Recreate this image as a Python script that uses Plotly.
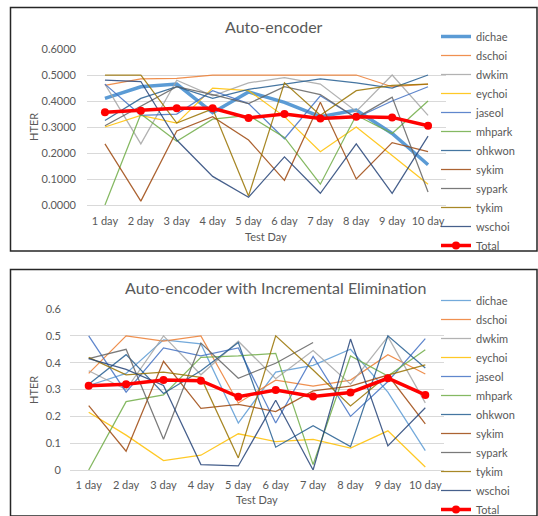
import plotly.graph_objects as go

W, H = 538, 516

days = ["1 day", "2 day", "3 day", "4 day", "5 day", "6 day", "7 day", "8 day", "9 day", "10 day"]
users = ["dichae", "dschoi", "dwkim", "eychoi", "jaseol", "mhpark",
         "ohkwon", "sykim", "sypark", "tykim", "wschoi"]

# HTER per user and test day: plain auto-encoder
ae_dichae = [0.41, 0.455, 0.465, 0.355, 0.435, 0.395, 0.34, 0.365, 0.275, 0.155]
ae_dschoi = [0.46, 0.485, 0.487, 0.5, 0.5, 0.5, 0.5, 0.5, 0.455, 0.465]
ae_dwkim = [0.465, 0.235, 0.48, 0.42, 0.47, 0.49, 0.465, 0.36, 0.5, 0.345]
ae_eychoi = [0.30, 0.345, 0.315, 0.45, 0.44, 0.34, 0.205, 0.30, 0.19, 0.08]
ae_jaseol = [0.465, 0.345, 0.35, 0.44, 0.39, 0.255, 0.42, 0.335, 0.40, 0.455]
ae_mhpark = [0.0, 0.35, 0.245, 0.33, 0.345, 0.26, 0.08, 0.345, 0.275, 0.40]
ae_ohkwon = [0.325, 0.41, 0.455, 0.41, 0.445, 0.465, 0.485, 0.47, 0.45, 0.5]
ae_sykim = [0.235, 0.015, 0.285, 0.34, 0.25, 0.095, 0.395, 0.10, 0.24, 0.205]
ae_sypark = [0.305, 0.38, 0.455, 0.425, 0.39, 0.455, 0.425, 0.335, 0.415, 0.05]
ae_tykim = [0.5, 0.5, 0.315, 0.37, 0.035, 0.47, 0.345, 0.44, 0.46, 0.465]
ae_wschoi = [0.48, 0.475, 0.25, 0.11, 0.03, 0.185, 0.045, 0.235, 0.045, 0.265]
ae_total = [0.357, 0.363, 0.372, 0.372, 0.335, 0.35, 0.333, 0.339, 0.337, 0.305]

# HTER per user and test day: auto-encoder with incremental elimination
ie_dichae = [0.315, 0.36, 0.485, 0.47, 0.175, 0.365, 0.39, 0.45, 0.29, 0.072]
ie_dschoi = [0.36, 0.5, 0.48, 0.5, 0.25, 0.335, 0.313, 0.335, 0.43, 0.358]
ie_dwkim = [0.37, 0.30, 0.5, 0.355, 0.48, 0.34, 0.445, 0.32, 0.497, 0.25]
ie_eychoi = [0.215, 0.13, 0.035, 0.055, 0.135, 0.106, 0.114, 0.082, 0.146, 0.011]
ie_jaseol = [0.5, 0.29, 0.455, 0.425, 0.455, 0.175, 0.423, 0.2, 0.33, 0.49]
ie_mhpark = [0.0, 0.255, 0.28, 0.42, 0.425, 0.435, 0.02, 0.425, 0.35, 0.448]
ie_ohkwon = [0.32, 0.43, 0.285, 0.37, 0.475, 0.085, 0.165, 0.087, 0.5, 0.38]
ie_sykim = [0.24, 0.07, 0.405, 0.23, 0.245, 0.218, 0.295, 0.313, 0.354, 0.172]
ie_sypark = [0.415, 0.45, 0.115, 0.473, 0.342, 0.398, 0.475, None, None, None]
ie_tykim = [0.42, 0.355, 0.365, 0.345, 0.045, 0.5, 0.373, 0.239, 0.354, 0.392]
ie_wschoi = [0.415, 0.375, 0.315, 0.02, 0.015, 0.26, 0.0, 0.488, 0.09, 0.232]
ie_total = [0.314, 0.32, 0.335, 0.333, 0.273, 0.298, 0.274, 0.289, 0.342, 0.28]

ae_series = [ae_dichae, ae_dschoi, ae_dwkim, ae_eychoi, ae_jaseol, ae_mhpark,
             ae_ohkwon, ae_sykim, ae_sypark, ae_tykim, ae_wschoi]
ie_series = [ie_dichae, ie_dschoi, ie_dwkim, ie_eychoi, ie_jaseol, ie_mhpark,
             ie_ohkwon, ie_sykim, ie_sypark, ie_tykim, ie_wschoi]

palette = ["#5B9BD5", "#ED7D31", "#A5A5A5", "#FFC000", "#4472C4", "#70AD47",
           "#255E91", "#9E480E", "#636363", "#997300", "#264478"]

FONT = "Lato"
TXT = "#595959"
GRID = "#D9D9D9"


def px_x(p):
    return p / W


def px_y(p):
    return 1 - p / H


fig = go.Figure()

# upper panel
for name, vals, col in zip(users, ae_series, palette):
    thick = name == "dichae"
    fig.add_trace(go.Scatter(x=days, y=vals, name=name, mode="lines",
                             line=dict(color=col, width=3.5 if thick else 1.25),
                             opacity=1 if thick else 0.85,
                             xaxis="x", yaxis="y", legend="legend"))
fig.add_trace(go.Scatter(x=days, y=ae_total, name="Total", mode="lines+markers",
                         line=dict(color="#FF0000", width=3.5),
                         marker=dict(color="#FF0000", size=8),
                         xaxis="x", yaxis="y", legend="legend"))

# lower panel
for name, vals, col in zip(users, ie_series, palette):
    fig.add_trace(go.Scatter(x=days, y=vals, name=name, mode="lines",
                             line=dict(color=col, width=1.25), opacity=0.85,
                             xaxis="x2", yaxis="y2", legend="legend2"))
fig.add_trace(go.Scatter(x=days, y=ie_total, name="Total", mode="lines+markers",
                         line=dict(color="#FF0000", width=3.5),
                         marker=dict(color="#FF0000", size=8),
                         xaxis="x2", yaxis="y2", legend="legend2"))

xcommon = dict(type="category", categoryorder="array", categoryarray=days,
               range=[-0.5, 9.5], showgrid=False, zeroline=False, showline=False,
               ticks="", tickfont=dict(family=FONT, size=11, color=TXT))
ycommon = dict(range=[0, 0.6001], dtick=0.1, tick0=0, showgrid=True, gridcolor=GRID,
               gridwidth=1, zeroline=True, zerolinecolor=GRID, zerolinewidth=1,
               showline=False, ticks="", tickfont=dict(family=FONT, size=11, color=TXT))

legcommon = dict(font=dict(family=FONT, size=11, color=TXT), bgcolor="rgba(0,0,0,0)",
                 xanchor="left", yanchor="middle", traceorder="normal",
                 itemwidth=30, borderwidth=0)

fig.update_layout(
    width=W, height=H,
    margin=dict(l=0, r=0, t=0, b=0, autoexpand=False),
    paper_bgcolor="white", plot_bgcolor="white",
    xaxis=dict(domain=[px_x(87), px_x(446)], anchor="y", ticklabelstandoff=8, **xcommon),
    yaxis=dict(domain=[px_y(205), px_y(49)], anchor="x", tickformat=".4f",
               ticklabelstandoff=10, **ycommon),
    xaxis2=dict(domain=[px_x(70), px_x(444)], anchor="y2", ticklabelstandoff=7, **xcommon),
    yaxis2=dict(domain=[px_y(470), px_y(309)], anchor="x2", tickformat="",
                ticklabelstandoff=8, **ycommon),
    legend=dict(x=px_x(436), y=px_y(141), **legcommon),
    legend2=dict(x=px_x(436), y=px_y(405), **legcommon),
    showlegend=True,
)

annotations = [
    dict(text="Auto-encoder", x=px_x(274), y=px_y(27), font=dict(size=16)),
    dict(text="Auto-encoder with Incremental Elimination", x=px_x(275), y=px_y(287),
         font=dict(size=16)),
    dict(text="Test Day", x=px_x(266), y=px_y(237), font=dict(size=11)),
    dict(text="Test Day", x=px_x(257), y=px_y(499), font=dict(size=11)),
    dict(text="HTER", x=px_x(33), y=px_y(127), font=dict(size=11), textangle=-90),
    dict(text="HTER", x=px_x(33), y=px_y(390), font=dict(size=11), textangle=-90),
]
for a in annotations:
    a.update(xref="paper", yref="paper", showarrow=False, xanchor="center", yanchor="middle")
    a["font"].update(family=FONT, color=TXT)
fig.update_layout(annotations=annotations)

# panel frames
frame = dict(type="rect", xref="paper", yref="paper",
             line=dict(color="#262626", width=1.5), fillcolor="rgba(0,0,0,0)")
fig.add_shape(x0=px_x(10.5), x1=px_x(537), y0=px_y(251), y1=px_y(7.5), **frame)
fig.add_shape(x0=px_x(10.5), x1=px_x(537), y0=px_y(516), y1=px_y(269.5), **frame)

fig.write_html("out.html")
